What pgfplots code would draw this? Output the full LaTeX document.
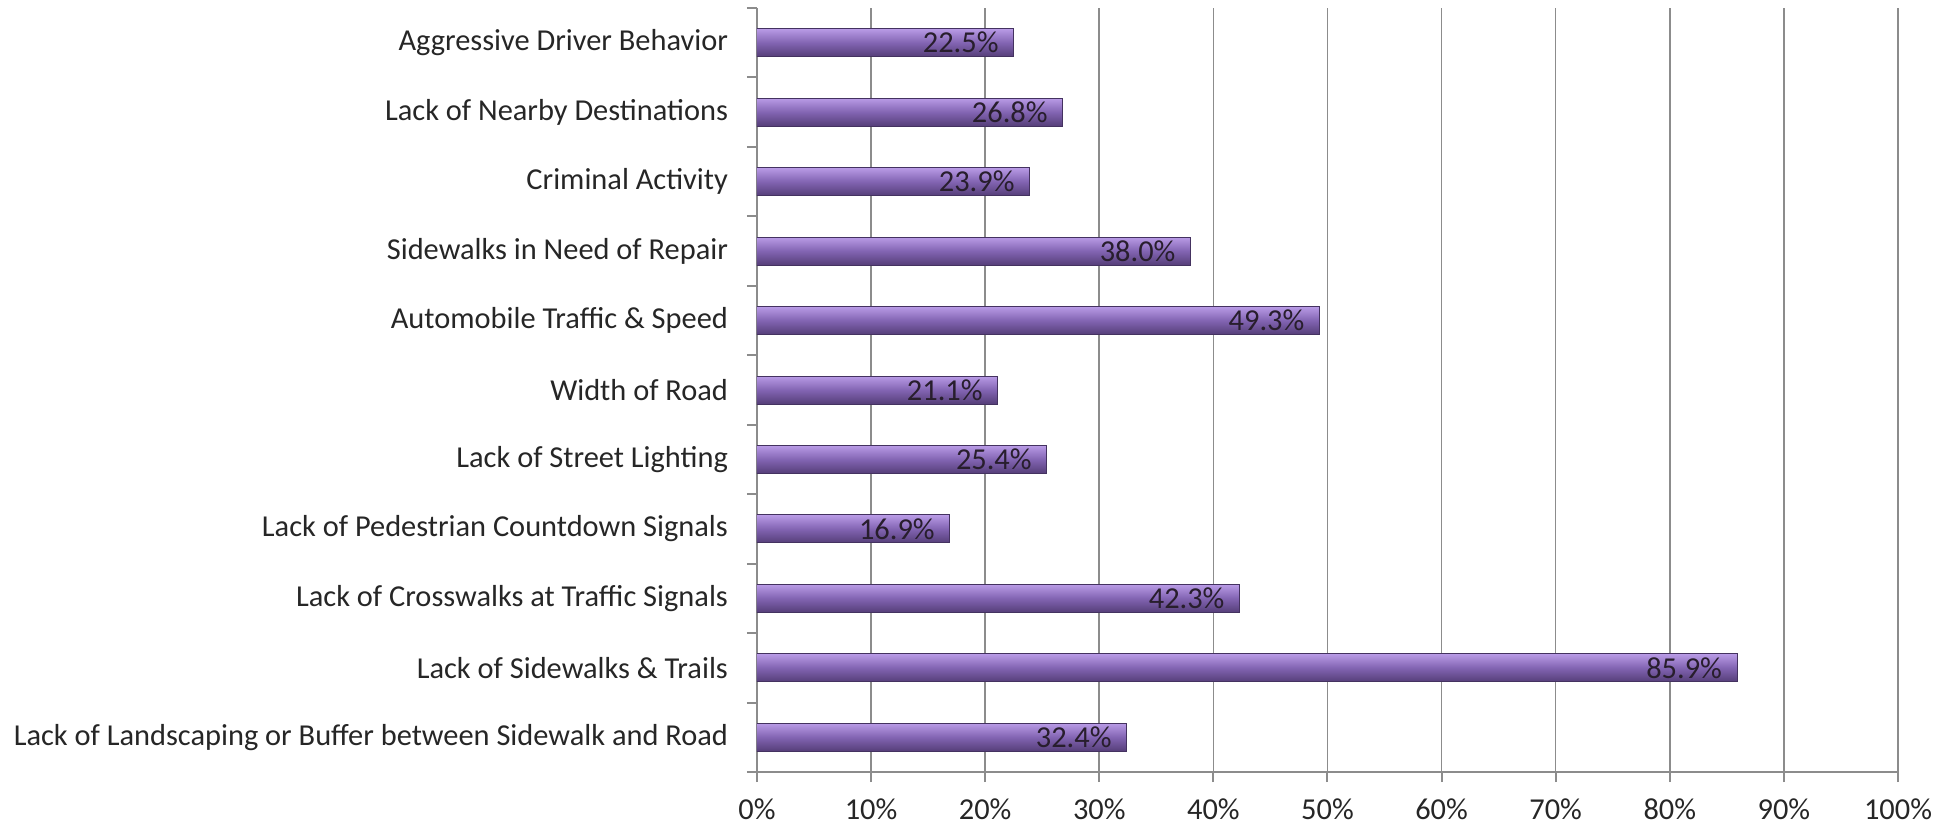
\documentclass[border=0pt]{standalone}
\usepackage{fontspec}
\setmainfont{Carlito}
\usepackage{pgfplots}
\pgfplotsset{compat=1.18}
\definecolor{gridgray}{RGB}{140,140,140}
\definecolor{bartop}{RGB}{185,155,230}
\definecolor{barmid}{RGB}{130,100,178}
\definecolor{barbot}{RGB}{85,62,120}
\definecolor{labeltext}{RGB}{40,30,45}
\pgfplotsset{
    purplebar/.style={draw=barbot!80!black, line width=0.5pt,
        top color=bartop, bottom color=barbot, middle color=barmid},
}
\begin{document}
\begin{tikzpicture}
\begin{axis}[
    at={(0,0)}, anchor=south west,
    scale only axis,
    width=570.5pt, height=382pt,
    xbar, bar width=14pt, bar shift=0pt,
    xmin=0, xmax=100,
    ymin=-0.5, ymax=10.5,
    xtick={0,10,...,100},
    xticklabel={\pgfmathprintnumber{\tick}\%},
    ytick={-0.5,0.5,...,10.5},
    yticklabels={},
    extra y ticks={0,...,10},
    extra y tick labels={Lack of Landscaping or Buffer between Sidewalk and Road,
        Lack of Sidewalks \& Trails,
        Lack of Crosswalks at Traffic Signals,
        Lack of Pedestrian Countdown Signals,
        Lack of Street Lighting,
        Width of Road,
        Automobile Traffic \& Speed,
        Sidewalks in Need of Repair,
        Criminal Activity,
        Lack of Nearby Destinations,
        Aggressive Driver Behavior},
    extra y tick style={major tick length=0pt,
        yticklabel style={xshift=-11pt}},
    axis lines*=left,
    axis line style={gridgray, line width=1pt},
    tick align=outside,
    major tick length=5pt,
    tick style={draw=gridgray, line width=1pt},
    xmajorgrids,
    grid style={gridgray, line width=0.8pt},
    /pgf/number format/assume math mode=true,
    tick label style={font=\fontsize{15.2}{18}\selectfont, text=black!85},
    xticklabel style={yshift=-5pt},
    point meta=x,
    nodes near coords={\pgfmathprintnumber[fixed,fixed zerofill,precision=1]{\pgfplotspointmeta}\%},
    every node near coord/.append style={anchor=east, xshift=-4pt,
        font=\fontsize{15.2}{18}\selectfont, text=labeltext},
]
\addplot[purplebar] coordinates {(32.4,0)};
\addplot[purplebar] coordinates {(85.9,1)};
\addplot[purplebar] coordinates {(42.3,2)};
\addplot[purplebar] coordinates {(16.9,3)};
\addplot[purplebar] coordinates {(25.4,4)};
\addplot[purplebar] coordinates {(21.1,5)};
\addplot[purplebar] coordinates {(49.3,6)};
\addplot[purplebar] coordinates {(38.0,7)};
\addplot[purplebar] coordinates {(23.9,8)};
\addplot[purplebar] coordinates {(26.8,9)};
\addplot[purplebar] coordinates {(22.5,10)};
\end{axis}
\pgfresetboundingbox
\path (-378.5pt,-27.5pt) rectangle (599.5pt,386pt);
\end{tikzpicture}
\end{document}
